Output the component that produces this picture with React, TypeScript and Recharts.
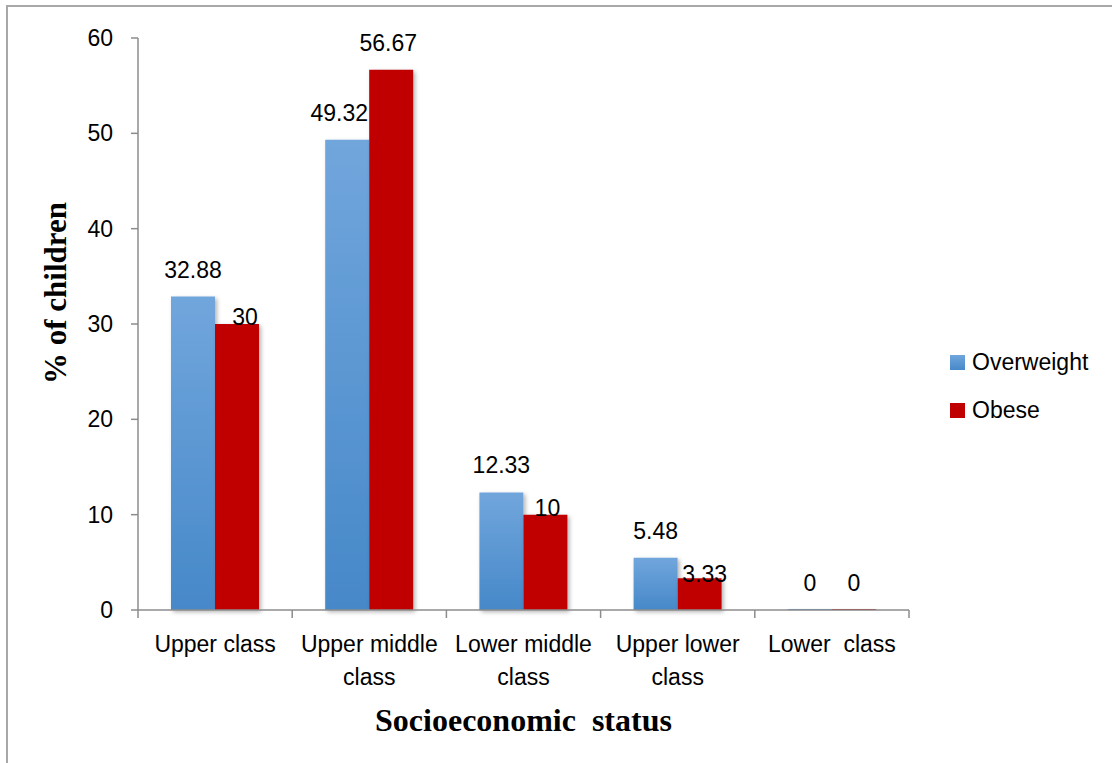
import { BarChart, Bar, XAxis, YAxis, LabelList } from 'recharts';

const categories = ['Upper class', 'Upper middle class', 'Lower middle class', 'Upper lower class', 'Lower  class'];
const tickLines = [['Upper class'], ['Upper middle', 'class'], ['Lower middle', 'class'], ['Upper lower', 'class'], ['Lower\u00a0 class']];
const overweight = [32.88, 49.32, 12.33, 5.48, 0];
const obese = [30, 56.67, 10, 3.33, 0];
const yTicks = [0, 10, 20, 30, 40, 50, 60];

const data = categories.map((name, i) => ({ name, overweight: overweight[i], obese: obese[i] }));

// labels Excel had to shove aside where they collided
const overweightNudge: Record<number, { dx: number; dy: number }> = { 1: { dx: -8, dy: 0 } };
const obeseNudge: Record<number, { dx: number; dy: number }> = {
  0: { dx: 8, dy: 20 },
  1: { dx: -3, dy: 0 },
  2: { dx: 2, dy: 20 },
  3: { dx: 5, dy: 23 },
};

const W = 1112;
const H = 763;
const margin = { top: 38, right: 203, bottom: 53, left: 78 };
const Y_AXIS_W = 60;
const X_AXIS_H = 100;
const PLOT_W = W - margin.left - margin.right - Y_AXIS_W;
const HALF_BAND = PLOT_W / categories.length / 2;

const SANS = '"Liberation Sans", Arial, sans-serif';
const SERIF = '"Liberation Serif", "Times New Roman", serif';
const AXIS = '#8c8c8c';

function CategoryTick(props: any) {
  const { x, y, payload, index } = props;
  const i = payload.index ?? index;
  const lines = tickLines[i] || [String(payload.value)];
  const last = i === categories.length - 1;
  return (
    <g>
      <line x1={x - HALF_BAND} y1={y} x2={x - HALF_BAND} y2={y + 8} stroke={AXIS} strokeWidth={1.5} />
      {last && <line x1={x + HALF_BAND} y1={y} x2={x + HALF_BAND} y2={y + 8} stroke={AXIS} strokeWidth={1.5} />}
      <text x={x} y={y + 42} textAnchor="middle" fontFamily={SANS} fontSize={23} fill="#000">
        {lines.map((t, k) => (
          <tspan key={k} x={x} dy={k === 0 ? 0 : 33}>
            {t}
          </tspan>
        ))}
      </text>
    </g>
  );
}

const makeLabel = (nudge: Record<number, { dx: number; dy: number }>) => (props: any) => {
  const { x, y, width, height, value, index } = props;
  const n = nudge[index] || { dx: 0, dy: 0 };
  // zero bars still carry a 1px stub; put their label on the baseline
  const top = Number(value) === 0 ? Number(y) + Number(height) : Number(y);
  return (
    <text
      x={Number(x) + Number(width) / 2 + n.dx}
      y={top - 19 + n.dy}
      textAnchor="middle"
      fontFamily={SANS}
      fontSize={23}
      fill="#000"
    >
      {value}
    </text>
  );
};

function LegendBox() {
  const items = [
    { label: 'Overweight', bg: 'linear-gradient(#71a6dc, #4688c9)' },
    { label: 'Obese', bg: '#c00000' },
  ];
  return (
    <div style={{ position: 'absolute', left: 950, top: 338, fontFamily: SANS, fontSize: 23, color: '#000' }}>
      {items.map((it) => (
        <div key={it.label} style={{ display: 'flex', alignItems: 'center', height: 48 }}>
          <span style={{ display: 'inline-block', width: 15, height: 15, marginRight: 7, background: it.bg }} />
          <span>{it.label}</span>
        </div>
      ))}
    </div>
  );
}

export default function App() {
  return (
    <div style={{ position: 'absolute', left: 0, top: 0, width: W, height: H, background: '#fff' }}>
      <div
        style={{
          position: 'absolute',
          left: 6,
          top: 5,
          right: 0,
          bottom: 0,
          borderTop: '2px solid #a8a8a8',
          borderLeft: '2px solid #a8a8a8',
        }}
      />
      <BarChart width={W} height={H} data={data} margin={margin} barCategoryGap="21.4%" barGap={0}>
        <defs>
          <linearGradient id="blueFill" x1="0" y1="0" x2="0" y2="1">
            <stop offset="0%" stopColor="#71a6dc" />
            <stop offset="100%" stopColor="#4688c9" />
          </linearGradient>
          <filter id="barShadow" x="-20%" y="-20%" width="150%" height="150%">
            <feDropShadow dx="2" dy="2" stdDeviation="2" floodColor="#000" floodOpacity="0.3" />
          </filter>
        </defs>
        <XAxis
          dataKey="name"
          height={X_AXIS_H}
          axisLine={{ stroke: AXIS, strokeWidth: 1.5 }}
          tickLine={false}
          tickSize={0}
          tickMargin={0}
          interval={0}
          tick={<CategoryTick />}
          label={(p: any) => {
            const vb = p.viewBox || {};
            return (
              <text
                x={vb.x + vb.width / 2}
                y={vb.y + 121}
                textAnchor="middle"
                fontFamily={SERIF}
                fontWeight="bold"
                fontSize={32}
                fill="#000"
                style={{ whiteSpace: 'pre' }}
              >
                {'Socioeconomic  status'}
              </text>
            );
          }}
        />
        <YAxis
          width={Y_AXIS_W}
          domain={[0, 60]}
          ticks={yTicks}
          interval={0}
          axisLine={{ stroke: AXIS, strokeWidth: 1.5 }}
          tickLine={{ stroke: AXIS, strokeWidth: 1.5 }}
          tickSize={7}
          tickMargin={18}
          tick={{ fontFamily: SANS, fontSize: 23, fill: '#000' }}
          label={(p: any) => {
            const vb = p.viewBox || {};
            const cx = vb.x - 23;
            const cy = vb.y + vb.height / 2 - 31;
            return (
              <text
                x={cx}
                y={cy}
                transform={`rotate(-90 ${cx} ${cy})`}
                textAnchor="middle"
                dominantBaseline="central"
                fontFamily={SERIF}
                fontWeight="bold"
                fontSize={31}
                fill="#000"
              >
                % of children
              </text>
            );
          }}
        />
        <Bar
          dataKey="overweight"
          name="Overweight"
          fill="url(#blueFill)"
          filter="url(#barShadow)"
          minPointSize={1}
          isAnimationActive={false}
        >
          <LabelList dataKey="overweight" content={makeLabel(overweightNudge)} />
        </Bar>
        <Bar
          dataKey="obese"
          name="Obese"
          fill="#c00000"
          filter="url(#barShadow)"
          minPointSize={1}
          isAnimationActive={false}
        >
          <LabelList dataKey="obese" content={makeLabel(obeseNudge)} />
        </Bar>
      </BarChart>
      <LegendBox />
    </div>
  );
}
